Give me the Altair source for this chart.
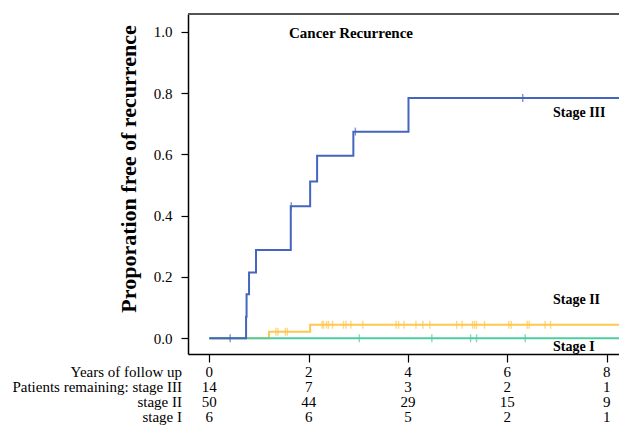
import altair as alt
import pandas as pd

# ---- Kaplan-Meier style step curves ----
s3_time = [0, 0.74, 0.75, 0.80, 0.94, 1.64, 2.03, 2.17, 2.90, 4.01, 8.6]
s3_prop = [0, 0.070, 0.1435, 0.215, 0.288, 0.4305, 0.511, 0.5956, 0.674, 0.7837, 0.7837]
s3_cens_time = [0.42, 1.65, 2.94, 6.31]
s3_cens_prop = [0, 0.4305, 0.674, 0.7837]

s2_time = [0, 1.20, 2.03, 8.6]
s2_prop = [0, 0.021, 0.044, 0.044]
s2_cens_time = [1.34, 1.38, 1.53, 1.57,
                2.27, 2.30, 2.36, 2.40, 2.48, 2.70, 2.75, 2.85, 3.09,
                3.76, 3.81, 3.92, 4.16, 4.30, 4.44, 4.98, 5.09, 5.30,
                5.34, 5.38, 5.54, 6.03, 6.08, 6.40, 6.44, 6.76, 6.87]
s2_cens_prop = [0.021, 0.021, 0.021, 0.021,
                0.044, 0.044, 0.044, 0.044, 0.044, 0.044, 0.044, 0.044, 0.044,
                0.044, 0.044, 0.044, 0.044, 0.044, 0.044, 0.044, 0.044, 0.044,
                0.044, 0.044, 0.044, 0.044, 0.044, 0.044, 0.044, 0.044, 0.044]

s1_time = [0, 8.6]
s1_prop = [0, 0]
s1_cens_time = [3.02, 4.48, 5.26, 5.38, 6.36]
s1_cens_prop = [0, 0, 0, 0, 0]

# ---- risk table ----
years = [0, 2, 4, 6, 8]
n_stage3 = [14, 7, 3, 2, 1]
n_stage2 = [50, 44, 29, 15, 9]
n_stage1 = [6, 6, 5, 2, 1]
row_labels = ["Years of follow up", "Patients remaining: stage III", "stage II", "stage I"]

stage_labels = ["Stage III", "Stage II", "Stage I"]

BLUE = "#4466be"
YELLOW = "#fdc84f"
GREEN = "#50cda0"
SERIF = "Liberation Serif"

W, H = 431, 340

xenc = alt.X("t:Q",
             scale=alt.Scale(domain=[-0.429, 8.248], nice=False, zero=False),
             axis=alt.Axis(values=[0, 2, 4, 6, 8], labels=False, title=None,
                           tickSize=8, tickColor="black", tickWidth=1.2,
                           domainColor="black", domainWidth=1.5, grid=False))
yenc = alt.Y("p:Q",
             scale=alt.Scale(domain=[-0.0512, 1.0577], nice=False, zero=False),
             axis=alt.Axis(values=[0, 0.2, 0.4, 0.6, 0.8, 1.0], format=".1f",
                           title="Proporation free of recurrence",
                           titleFont=SERIF, titleFontSize=22, titleFontWeight="bold",
                           titleColor="black", titleAngle=270, titleX=-53, titleY=154.5,
                           titleAlign="center", titleBaseline="alphabetic",
                           labelFont=SERIF, labelFontSize=15, labelColor="black",
                           labelPadding=9, tickSize=7, tickColor="black", tickWidth=1.2,
                           domainColor="black", domainWidth=1.5, grid=False))

layers = []
for tt, pp, ct, cp, col in [
    (s2_time, s2_prop, s2_cens_time, s2_cens_prop, YELLOW),
    (s1_time, s1_prop, s1_cens_time, s1_cens_prop, GREEN),
    (s3_time, s3_prop, s3_cens_time, s3_cens_prop, BLUE),
]:
    line_df = pd.DataFrame({"t": tt, "p": pp})
    cens_df = pd.DataFrame({"t": ct, "p": cp})
    layers.append(alt.Chart(line_df).mark_line(interpolate="step-after", color=col,
                                               strokeWidth=2, clip=True).encode(x=xenc, y=yenc))
    layers.append(alt.Chart(cens_df).mark_tick(orient="vertical", color=col, size=8,
                                               thickness=1.4, clip=True).encode(x=xenc, y=yenc))

# top frame line
layers.append(alt.Chart(pd.DataFrame({"a": [0]})).mark_rule(color="#555555", strokeWidth=2).encode(
    x=alt.value(0), x2=alt.value(W), y=alt.value(0)))

# chart title inside plot
layers.append(alt.Chart(pd.DataFrame({"label": ["Cancer Recurrence"]})).mark_text(
    font=SERIF, fontSize=15, fontWeight="bold", align="left", baseline="alphabetic", color="black"
).encode(x=alt.value(101), y=alt.value(24.3), text="label:N"))

# stage labels
for lab, py in zip(stage_labels, [103.3, 290, 336.7]):
    layers.append(alt.Chart(pd.DataFrame({"label": [lab]})).mark_text(
        font=SERIF, fontSize=14, fontWeight="bold", align="left", baseline="alphabetic", color="black"
    ).encode(x=alt.value(365), y=alt.value(py), text="label:N"))

# risk table rows
rows = [[str(v) for v in years], [str(v) for v in n_stage3],
        [str(v) for v in n_stage2], [str(v) for v in n_stage1]]
for i, (lab, vals) in enumerate(zip(row_labels, rows)):
    py = 363 + 15 * i
    layers.append(alt.Chart(pd.DataFrame({"label": [lab]})).mark_text(
        font=SERIF, fontSize=15, align="right", baseline="alphabetic", color="black"
    ).encode(x=alt.value(-6), y=alt.value(py), text="label:N"))
    df = pd.DataFrame({"t": years, "txt": vals})
    layers.append(alt.Chart(df).mark_text(
        font=SERIF, fontSize=15, align="center", baseline="alphabetic", color="black"
    ).encode(x=xenc, y=alt.value(py), text="txt:N"))

chart = alt.layer(*layers).properties(
    width=W, height=H,
    autosize=alt.AutoSizeParams(type="none"),
    padding={"left": 180, "top": 6, "right": 0, "bottom": 74},
    background="white",
).configure_view(stroke=None)

chart.save("out.html", embed_options={"renderer": "svg", "actions": False})
